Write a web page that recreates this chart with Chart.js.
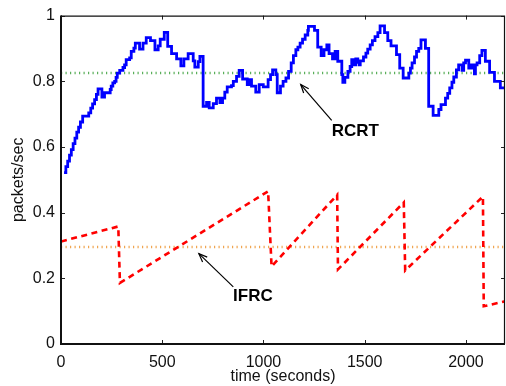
<!DOCTYPE html>
<html>
<head>
<meta charset="utf-8">
<script src="https://cdn.jsdelivr.net/npm/chart.js@4/dist/chart.umd.min.js"></script>
<style>
  html, body { margin: 0; padding: 0; background: #fff; }
  #wrap { width: 506px; height: 386px; }
</style>
</head>
<body>
<div id="wrap"><canvas id="c" width="506" height="386"></canvas></div>
<script>
// ---- data ----
const rcrtTime = [15,24,33,42,51,60,69,78,87,96,107,137,147,156,166,175,183,202,215,243,248,256,265,272,278,290,306,314,322,339,347,360,367,388,405,421,442,464,480,490,510,527,546,571,592,607,628,653,661,678,686,702,719,732,752,768,785,798,809,821,842,851,867,880,897,920,928,941,962,979,999,1023,1035,1045,1061,1068,1084,1097,1111,1124,1137,1148,1160,1170,1181,1193,1206,1219,1222,1252,1268,1285,1299,1313,1324,1341,1354,1367,1387,1392,1402,1417,1428,1436,1448,1456,1466,1473,1478,1494,1506,1515,1527,1538,1551,1565,1576,1598,1614,1630,1657,1673,1690,1718,1726,1734,1746,1756,1767,1778,1800,1816,1838,1866,1877,1899,1910,1920,1931,1940,1953,1964,1981,1989,1998,2014,2024,2035,2042,2047,2055,2068,2079,2096,2117,2141,2170,2195];
const rcrtRate = [0.522,0.54,0.557,0.575,0.592,0.61,0.627,0.645,0.66,0.676,0.694,0.704,0.718,0.731,0.744,0.76,0.777,0.752,0.765,0.775,0.785,0.795,0.80,0.812,0.825,0.833,0.842,0.85,0.866,0.871,0.891,0.901,0.916,0.898,0.916,0.933,0.924,0.896,0.908,0.928,0.949,0.906,0.884,0.868,0.847,0.868,0.884,0.862,0.843,0.86,0.876,0.724,0.736,0.719,0.732,0.749,0.735,0.749,0.767,0.783,0.787,0.80,0.815,0.833,0.807,0.79,0.805,0.785,0.767,0.79,0.783,0.805,0.82,0.835,0.82,0.765,0.785,0.80,0.81,0.83,0.856,0.878,0.896,0.904,0.916,0.928,0.941,0.955,0.967,0.955,0.904,0.878,0.896,0.911,0.884,0.868,0.891,0.861,0.82,0.797,0.812,0.83,0.845,0.866,0.85,0.868,0.858,0.85,0.862,0.874,0.886,0.898,0.911,0.924,0.936,0.948,0.969,0.948,0.924,0.908,0.881,0.84,0.81,0.825,0.84,0.856,0.874,0.891,0.90,0.926,0.90,0.724,0.696,0.714,0.729,0.749,0.763,0.78,0.797,0.813,0.835,0.85,0.833,0.856,0.864,0.84,0.85,0.84,0.823,0.85,0.856,0.878,0.894,0.861,0.827,0.80,0.78,0.78];

const ifrcTime = [0,283,291,1023,1040,1364,1368,1693,1700,2084,2088,2195];
const ifrcRate = [0.312,0.358,0.186,0.465,0.236,0.454,0.227,0.431,0.224,0.449,0.115,0.13];

const rcrtAverage = 0.825;
const ifrcAverage = 0.295;

const xTicks = [0,500,1000,1500,2000];
const yTicks = [0,0.2,0.4,0.6,0.8,1];
const xRange = [0,2193];
const yRange = [0,1];

const xTitle = 'time (seconds)';
const yTitle = 'packets/sec';

// annotations: label, text centre [t, v], arrow tail [t, v], arrow head [t, v]
const annotations = [
  { text: 'RCRT', at: [1454, 0.647], tail: [1337, 0.681], head: [1184, 0.79] },
  { text: 'IFRC', at: [948, 0.144], tail: [851, 0.174], head: [681, 0.275] }
];

// ---- build ----
const xy = (xs, ys) => xs.map((x, i) => ({ x: x, y: ys[i] }));
const flat = (v) => [{ x: xRange[0], y: v }, { x: xRange[1], y: v }];

const FONT = "'Liberation Sans', Arial, Helvetica, sans-serif";

const framePlugin = {
  id: 'frame',
  afterDatasetsDraw(chart) {
    const ctx = chart.ctx;
    const a = chart.chartArea;
    const xs = chart.scales.x, ys = chart.scales.y;
    ctx.save();
    // annotations
    ctx.strokeStyle = '#000';
    ctx.fillStyle = '#000';
    ctx.lineWidth = 1.2;
    annotations.forEach(an => {
      const tx = xs.getPixelForValue(an.tail[0]), ty = ys.getPixelForValue(an.tail[1]);
      const hx = xs.getPixelForValue(an.head[0]), hy = ys.getPixelForValue(an.head[1]);
      ctx.beginPath(); ctx.moveTo(tx, ty); ctx.lineTo(hx, hy); ctx.stroke();
      const ang = Math.atan2(hy - ty, hx - tx);
      const L = 9, w = 0.38;
      ctx.beginPath();
      ctx.moveTo(hx - L * Math.cos(ang - w), hy - L * Math.sin(ang - w));
      ctx.lineTo(hx, hy);
      ctx.lineTo(hx - L * Math.cos(ang + w), hy - L * Math.sin(ang + w));
      ctx.stroke();
      ctx.font = 'bold 17px ' + FONT;
      ctx.textAlign = 'center';
      ctx.textBaseline = 'middle';
      ctx.fillText(an.text, xs.getPixelForValue(an.at[0]), ys.getPixelForValue(an.at[1]));
    });
    // inward ticks
    ctx.strokeStyle = '#222';
    ctx.lineWidth = 1;
    const tl = 4;
    xTicks.forEach(t => {
      const px = Math.round(xs.getPixelForValue(t)) + 0.5;
      ctx.beginPath();
      ctx.moveTo(px, a.bottom); ctx.lineTo(px, a.bottom - tl);
      ctx.moveTo(px, a.top); ctx.lineTo(px, a.top + tl);
      ctx.stroke();
    });
    yTicks.forEach(t => {
      const py = Math.round(ys.getPixelForValue(t)) + 0.5;
      ctx.beginPath();
      ctx.moveTo(a.left, py); ctx.lineTo(a.left + tl, py);
      ctx.moveTo(a.right, py); ctx.lineTo(a.right - tl, py);
      ctx.stroke();
    });
    // frame
    ctx.strokeStyle = '#111';
    ctx.lineWidth = 1.2;
    ctx.beginPath();
    ctx.moveTo(a.left, a.top + 0.5); ctx.lineTo(a.right, a.top + 0.5);
    ctx.moveTo(a.right - 0.5, a.top); ctx.lineTo(a.right - 0.5, a.bottom);
    ctx.stroke();
    ctx.lineWidth = 2;
    ctx.beginPath();
    ctx.moveTo(a.left, a.top); ctx.lineTo(a.left, a.bottom); ctx.lineTo(a.right, a.bottom);
    ctx.stroke();
    ctx.restore();
  }
};

new Chart(document.getElementById('c'), {
  type: 'line',
  data: {
    datasets: [
      {
        label: 'RCRT',
        data: xy(rcrtTime, rcrtRate),
        borderColor: '#0000ff',
        borderWidth: 2.8,
        stepped: 'before',
        pointRadius: 0,
        fill: false,
        order: 0
      },
      {
        label: 'IFRC',
        data: xy(ifrcTime, ifrcRate),
        borderColor: '#ff0000',
        borderWidth: 2.6,
        borderDash: [6, 4.5],
        pointRadius: 0,
        tension: 0,
        fill: false,
        order: 1
      },
      {
        label: 'RCRT average',
        data: flat(rcrtAverage),
        borderColor: 'rgb(90,175,90)',
        borderWidth: 2.5,
        borderDash: [1.2, 3.3],
        borderCapStyle: 'butt',
        pointRadius: 0,
        fill: false,
        order: 2
      },
      {
        label: 'IFRC average',
        data: flat(ifrcAverage),
        borderColor: 'rgb(240,165,80)',
        borderWidth: 2.5,
        borderDash: [1.2, 3.3],
        borderCapStyle: 'butt',
        pointRadius: 0,
        fill: false,
        order: 3
      }
    ]
  },
  options: {
    responsive: false,
    animation: false,
    devicePixelRatio: 1,
    layout: { padding: { top: 14, right: 1, left: 0, bottom: 0 } },
    plugins: {
      legend: { display: false },
      tooltip: { enabled: false }
    },
    scales: {
      x: {
        type: 'linear',
        min: xRange[0],
        max: xRange[1],
        afterBuildTicks: (s) => { s.ticks = xTicks.map(v => ({ value: v })); },
        afterFit: (s) => { s.height = 42; },
        grid: { display: false, drawTicks: false },
        border: { display: false },
        ticks: {
          autoSkip: false,
          maxRotation: 0,
          padding: 9,
          color: '#111',
          font: { family: FONT, size: 16 },
          callback: (v) => String(v)
        },
        title: {
          display: true,
          text: xTitle,
          color: '#111',
          font: { family: FONT, size: 16 },
          padding: { top: 0, bottom: 0 }
        }
      },
      y: {
        type: 'linear',
        min: yRange[0],
        max: yRange[1],
        afterBuildTicks: (s) => { s.ticks = yTicks.map(v => ({ value: v })); },
        afterFit: (s) => { s.width = 61; },
        grid: { display: false, drawTicks: false },
        border: { display: false },
        ticks: {
          padding: 6,
          color: '#111',
          font: { family: FONT, size: 16 },
          callback: (v) => String(Math.round(v * 10) / 10)
        },
        title: {
          display: true,
          text: yTitle,
          color: '#111',
          font: { family: FONT, size: 16 },
          padding: { top: 9, bottom: 0 }
        }
      }
    }
  },
  plugins: [framePlugin]
});
</script>
</body>
</html>
